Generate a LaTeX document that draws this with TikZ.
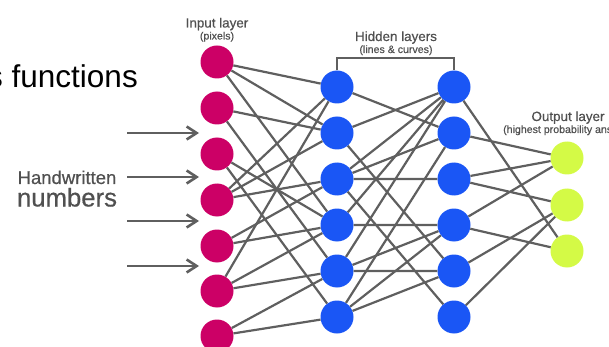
\documentclass[tikz,border=0pt]{standalone}
\usepackage{fontspec}
\setmainfont{Liberation Sans}
\newfontfamily\labfont{Liberation Sans}[FakeBold=0.5]
\usetikzlibrary{arrows.meta, positioning}

\definecolor{inred}{RGB}{204,0,102}
\definecolor{hidblue}{RGB}{26,86,245}
\definecolor{outlime}{RGB}{212,250,70}
\definecolor{wire}{RGB}{95,95,95}
\definecolor{labgray}{RGB}{80,80,80}

\tikzset{
  inp/.style={circle, fill=inred, minimum size=33pt, inner sep=0pt},
  hid/.style={circle, fill=hidblue, minimum size=33pt, inner sep=0pt},
  outp/.style={circle, fill=outlime, minimum size=33pt, inner sep=0pt},
  link/.style={draw=wire, line width=2.2pt},
  feed/.style={draw=wire, line width=2.6pt, -{Straight Barb[length=10pt, width=13pt, line width=2.6pt]}},
  brack/.style={draw=wire, line width=1.6pt},
  title/.style={text=labgray, inner sep=0pt, anchor=base, font=\labfont\fontsize{13.4}{15}\selectfont},
  note/.style={text=labgray, inner sep=0pt, anchor=base, font=\labfont\fontsize{10.6}{12}\selectfont}
}

\begin{document}
\begin{tikzpicture}[x=1pt, y=-1pt]
\useasboundingbox (0,0) rectangle (609,347);
\clip (0,0) rectangle (609,347);

% layers of neurons
\node[inp] (in1) at (217,62) {}; \node[inp] (in2) at (217,108) {}; \node[inp] (in3) at (217,154) {};
\node[inp] (in4) at (217,200) {}; \node[inp] (in5) at (217,246) {}; \node[inp] (in6) at (217,291) {};
\node[inp] (in7) at (217,336) {};
\node[hid] (ha1) at (337,87) {}; \node[hid] (ha2) at (337,133) {}; \node[hid] (ha3) at (337,179) {};
\node[hid] (ha4) at (337,225) {}; \node[hid] (ha5) at (337,271) {}; \node[hid] (ha6) at (337,317) {};
\node[hid] (hb1) at (454,87) {}; \node[hid] (hb2) at (454,133) {}; \node[hid] (hb3) at (454,179) {};
\node[hid] (hb4) at (454,225) {}; \node[hid] (hb5) at (454,271) {}; \node[hid] (hb6) at (454,317) {};
\node[outp] (out1) at (567,158) {}; \node[outp] (out2) at (567,205) {}; \node[outp] (out3) at (567,251) {};

% weights
\draw[link] (in1) -- (ha1) (in1) -- (ha2) (in1) -- (ha4) (in2) -- (ha2) (in2) -- (ha5) (in3) -- (ha4);
\draw[link] (in3) -- (ha6) (in4) -- (ha1) (in4) -- (ha2) (in4) -- (ha3) (in5) -- (ha3) (in5) -- (ha4);
\draw[link] (in6) -- (ha1) (in6) -- (ha4) (in6) -- (ha5) (in7) -- (ha5) (in7) -- (ha6);
\draw[link] (ha1) -- (hb2) (ha2) -- (hb1) (ha2) -- (hb5) (ha3) -- (hb1) (ha3) -- (hb2) (ha3) -- (hb3);
\draw[link] (ha3) -- (hb6) (ha4) -- (hb1) (ha4) -- (hb4) (ha5) -- (hb1) (ha5) -- (hb4) (ha5) -- (hb5);
\draw[link] (ha6) -- (hb2) (ha6) -- (hb4) (ha6) -- (hb5);
\draw[link] (hb1) -- (out3) (hb2) -- (out1) (hb3) -- (out1) (hb3) -- (out2) (hb4) -- (out1) (hb4) -- (out3);
\draw[link] (hb5) -- (out2) (hb6) -- (out2);

% labels
\node[title] (inlab) at (217,27.5) {Input layer}; \node[note] (pixlab) at (217,39.5) {(pixels)};
\node[title] (hidlab) at (396,41) {Hidden layers}; \node[note] (curlab) at (396,53) {(lines \& curves)};
\node[title] (outlab) at (568,121) {Output layer}; \node[note] (problab) at (568,133) {(highest probability answer)};
\coordinate (bk) at (396,58); \draw[brack] (ha1.north) |- (bk) -| (hb1.north);

% handwritten input
\node[title, font=\labfont\fontsize{18.5}{20}\selectfont] (hw) at (67,184) {Handwritten};
\node[title, font=\labfont\fontsize{25.7}{28}\selectfont] (num) at (67,206.5) {numbers};
\coordinate (s1) at (127,133); \coordinate (t1) at (199,133); \draw[feed] (s1) -- (t1);
\coordinate (s2) at (127,177); \coordinate (t2) at (199,177); \draw[feed] (s2) -- (t2);
\coordinate (s3) at (127,221); \coordinate (t3) at (199,221); \draw[feed] (s3) -- (t3);
\coordinate (s4) at (127,266); \coordinate (t4) at (199,266); \draw[feed] (s4) -- (t4);

\node[inner sep=0pt, anchor=base east, font=\fontsize{31.5}{34}\selectfont] (fun) at (138,88) {s functions};
\end{tikzpicture}
\end{document}
